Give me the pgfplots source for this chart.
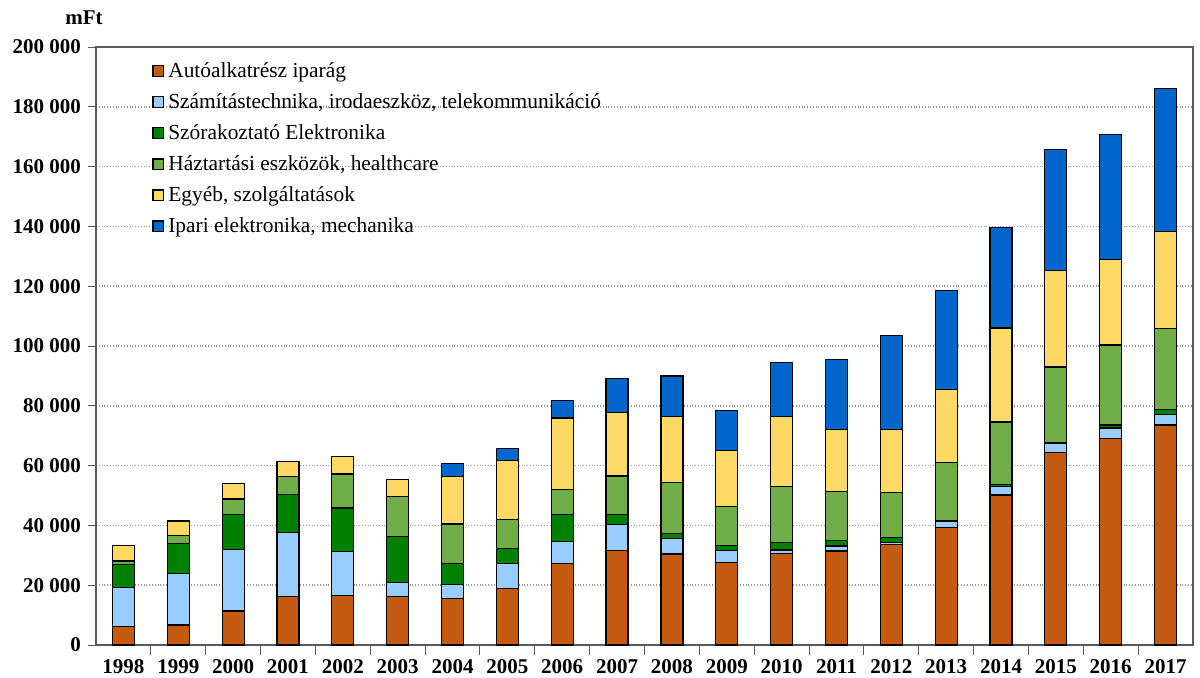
\documentclass[border=0pt]{standalone}
\usepackage{pgfplots}
\pgfplotsset{compat=1.18}
\usepackage{pgfplotstable}
\usepackage{fontspec}
\setmainfont{Liberation Serif}
\definecolor{cAuto}{HTML}{C55A11}
\definecolor{cSzam}{HTML}{99CCFF}
\definecolor{cSzor}{HTML}{008000}
\definecolor{cHaz}{HTML}{70AD47}
\definecolor{cEgy}{HTML}{FFD966}
\definecolor{cIpa}{HTML}{0066CC}
\pgfplotstableread{
x auto szam szor haz egy ipa
0 6200 13000 7600 1300 5100 0
1 6700 17100 10200 2700 4800 0
2 11400 20500 11700 5250 5100 0
3 16300 21250 12850 6000 5100 0
4 16500 14700 14600 11400 5800 0
5 16150 4700 15400 13400 5800 0
6 15600 4550 7150 13150 15800 4500
7 19000 8350 4900 9850 19600 4000
8 27300 7450 8800 8500 23850 5900
9 31650 8550 3500 12800 21150 11500
10 30450 5100 1800 17050 22150 13400
11 27500 4150 1750 12800 18950 13400
12 30650 1100 2550 18600 23400 18200
13 31450 1650 1750 16500 20600 23550
14 33650 550 1800 14900 21050 31550
15 39400 1800 500 19250 24500 33000
16 50200 2900 500 21000 31400 33700
17 64350 3000 300 25300 32200 40600
18 68950 3650 950 26800 28500 41950
19 73550 3650 1600 27150 32250 47850
}\datatable
\begin{document}
\begin{tikzpicture}
\path[use as bounding box] (-48pt,-16pt) rectangle (552pt,322.5pt);
\begin{axis}[
  scale only axis,
  width=548.5pt, height=299pt,
  ybar stacked, bar width=11pt,
  xmin=-0.5, xmax=19.5,
  ymin=0, ymax=200000,
  xtick={0,...,19},
  xticklabels={1998,1999,2000,2001,2002,2003,2004,2005,2006,2007,2008,2009,2010,2011,2012,2013,2014,2015,2016,2017},
  minor xtick={0.5,1.5,...,18.5},
  major x tick style={draw=none},
  minor tick length=5pt,
  ytick={0,20000,...,200000},
  yticklabels={0,20\ 000,40\ 000,60\ 000,80\ 000,100\ 000,120\ 000,140\ 000,160\ 000,180\ 000,200\ 000},
  scaled y ticks=false,
  major tick length=4pt,
  tick align=outside,
  xtick pos=bottom, ytick pos=left,
  ymajorgrids,
  major grid style={densely dotted, gray!80, line width=0.8pt},
  axis line style={gray!70!black, line width=0.6pt},
  tick style={gray!70!black, line width=0.5pt},
  ticklabel style={font=\rmfamily\bfseries\fontsize{10.5}{12}\selectfont},
  xticklabel style={text height=7.2pt, text depth=0pt, yshift=0.3pt},
  clip=false,
  legend cell align=left,
  legend style={draw=none, fill=none, at={(axis description cs:0.051,0.982)}, anchor=north west,
    font=\rmfamily\fontsize{10.7}{12}\selectfont, row sep=2.6pt, inner sep=0pt,
    /tikz/every even column/.append style={column sep=0pt}},
  legend image code/.code={\draw[#1,draw=black,line width=0.6pt] (0pt,-2.7pt) rectangle (5.4pt,2.7pt);},
  every axis plot/.append style={draw=black, line width=0.6pt},
]
\addplot[fill=cAuto] table[x=x,y=auto]{\datatable};
\addlegendentry{Autóalkatrész iparág}
\addplot[fill=cSzam] table[x=x,y=szam]{\datatable};
\addlegendentry{Számítástechnika, irodaeszköz, telekommunikáció}
\addplot[fill=cSzor] table[x=x,y=szor]{\datatable};
\addlegendentry{Szórakoztató Elektronika}
\addplot[fill=cHaz] table[x=x,y=haz]{\datatable};
\addlegendentry{Háztartási eszközök, healthcare}
\addplot[fill=cEgy] table[x=x,y=egy]{\datatable};
\addlegendentry{Egyéb, szolgáltatások}
\addplot[fill=cIpa] table[x=x,y=ipa]{\datatable};
\addlegendentry{Ipari elektronika, mechanika}
\node[font=\rmfamily\bfseries\fontsize{10.5}{12}\selectfont] at ([xshift=-6pt,yshift=14.5pt]rel axis cs:0,1) {mFt};
\end{axis}
\end{tikzpicture}
\end{document}
